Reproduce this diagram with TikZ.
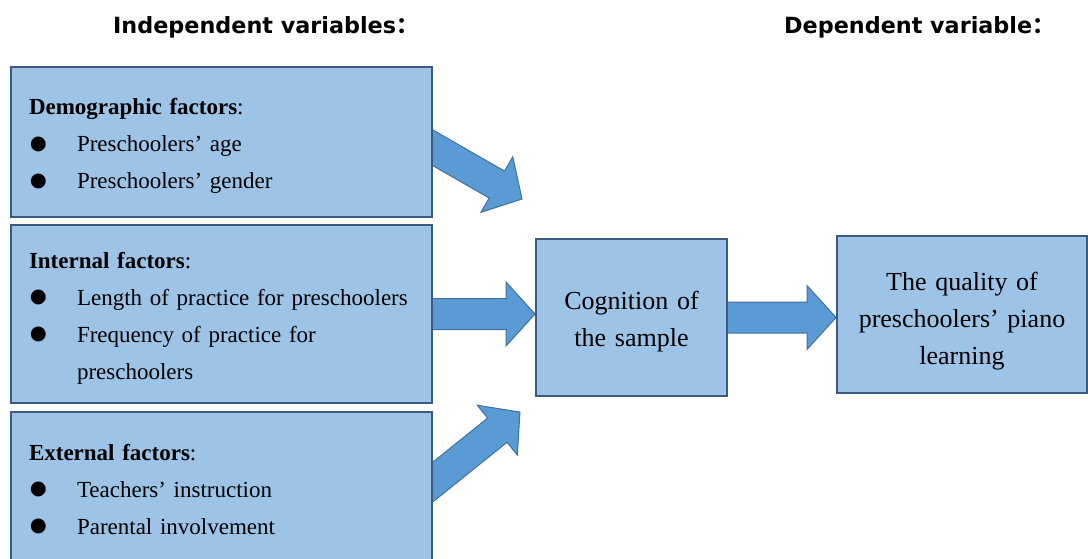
\documentclass[tikz,border=0pt]{standalone}
\usepackage{fontspec}
\setmainfont{Liberation Serif}
\newfontfamily\headfont{DejaVu Sans}
\newfontfamily\cjk{Noto Sans CJK SC}
\usetikzlibrary{positioning,calc,backgrounds}

\definecolor{boxfill}{HTML}{9DC3E6}
\definecolor{boxline}{HTML}{3A5A80}
\definecolor{arrowfill}{HTML}{5B9BD5}
\definecolor{arrowline}{HTML}{41719C}

\newcommand{\bul}{\makebox[48pt][l]{\hspace*{1pt}\raisebox{2.5pt}{\headfont\fontsize{19.5}{19.5}\selectfont ●}}}
\newcommand{\fatarrow}[2]{%
  \path[draw=arrowline, fill=arrowfill, line width=1pt]
    let \p1=(#1), \p2=(#2), \n1={atan2(\y2-\y1,\x2-\x1)}, \n2={veclen(\x2-\x1,\y2-\y1)} in
    [shift={(\p1)}, rotate=\n1]
    (0,-15.5) -- (\n2-29,-15.5) -- (\n2-29,-32) -- (\n2,0)
    -- (\n2-29,32) -- (\n2-29,15.5) -- (0,15.5) -- cycle;}

\begin{document}
\begin{tikzpicture}[x=1pt, y=-1pt]
    % Styles
    \tikzstyle{head}=[inner sep=0pt, anchor=base west, font=\headfont\bfseries\fontsize{22.3}{26}\selectfont]
    \tikzstyle{factor}=[rectangle, draw=boxline, line width=2pt, fill=boxfill, minimum width=421pt, text width=385pt, inner xsep=18pt, align=left, font=\fontsize{23}{37}\selectfont]
    \tikzstyle{result}=[rectangle, draw=boxline, line width=2pt, fill=boxfill, minimum height=157pt, inner xsep=0pt, align=center, font=\fontsize{26}{37}\selectfont]

    \useasboundingbox (0,0) rectangle (1088,559);
    \clip (0,0) rectangle (1088,559);

    % Headings
    \node[head] (indep) at (113,34) {Independent variables\cjk{：}};
    \node[head] (dep) at (784,34) {Dependent variable\cjk{：}};

    % Left column
    \node[factor, minimum height=150pt] (demo) at (221.5,142) {\rule{0pt}{24pt}\textbf{Demographic factors}:\\
        \bul Preschoolers’ age\\
        \bul Preschoolers’ gender};
    \node[factor, minimum height=178pt, below=6pt of demo] (inter) {\rule{0pt}{24pt}\textbf{Internal factors}:\\
        \bul Length of practice for preschoolers\\
        \bul Frequency of practice for\\
        \hspace*{48pt}preschoolers};
    \node[factor, minimum height=155pt, below=7pt of inter] (exter) {\rule{0pt}{16pt}\textbf{External factors}:\\
        \bul Teachers’ instruction\\
        \bul Parental involvement};

    % Middle and right
    \node[result, minimum width=191pt, text width=191pt, right=102pt of inter, yshift=-3.5pt] (cog) {\rule{0pt}{27pt}Cognition of\\the sample};
    \node[result, minimum width=250pt, text width=250pt, right=108pt of cog, yshift=3pt] (quality) {\rule{0pt}{31pt}The quality of\\preschoolers’ piano\\learning};

    % Block arrows, behind the boxes
    \coordinate (upTip) at (522,199);
    \coordinate (lowTip) at (520,412);
    \begin{pgfonlayer}{background}
    \fatarrow{[xshift=-12pt,yshift=1pt]demo.east}{upTip}
    \fatarrow{[xshift=-12pt]inter.east}{inter.east -| cog.west}
    \fatarrow{[xshift=-12pt,yshift=-2pt]exter.east}{lowTip}
    \fatarrow{[xshift=-12pt]cog.east}{cog.east -| quality.west}
    \end{pgfonlayer}

\end{tikzpicture}
\end{document}
